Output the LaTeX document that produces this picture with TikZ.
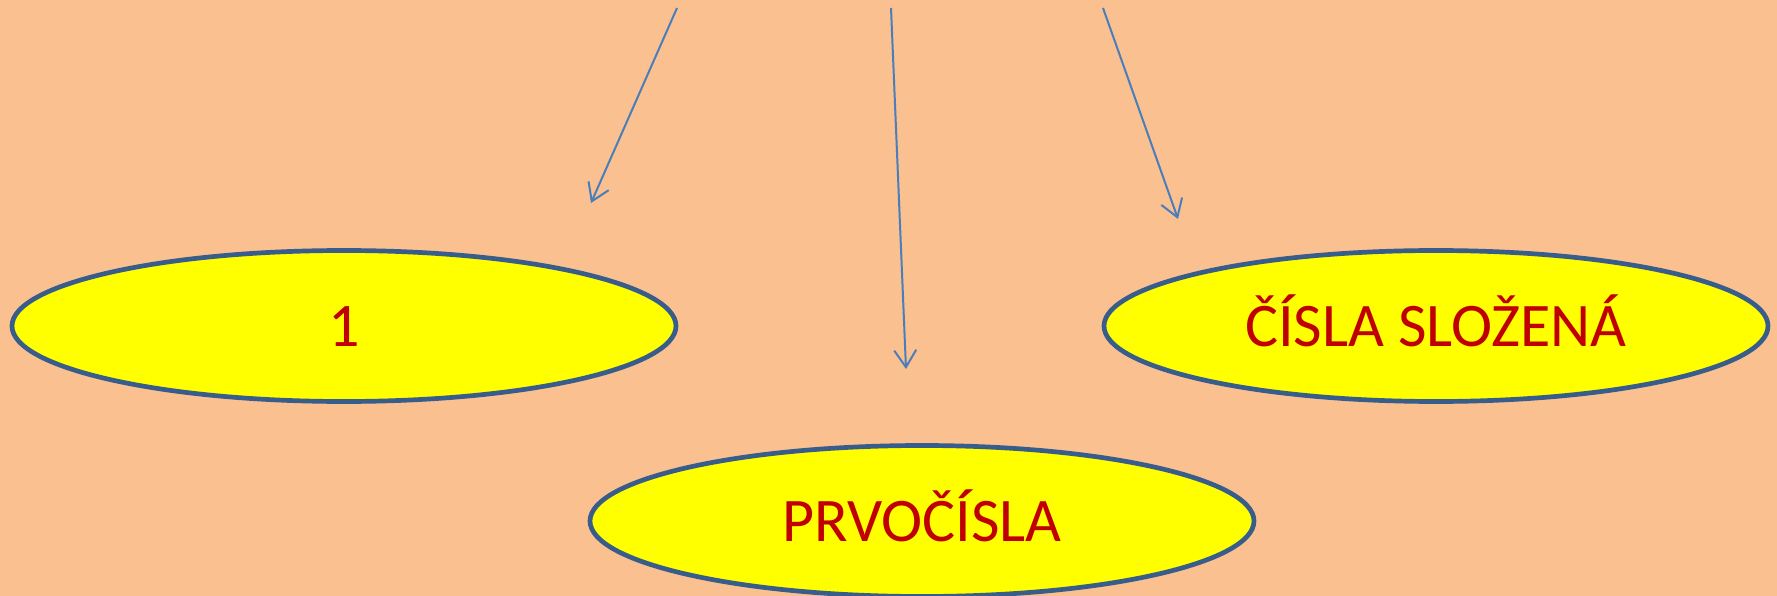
\documentclass[tikz,border=0pt]{standalone}
\usepackage{fontspec}
\setmainfont{Carlito}
\usetikzlibrary{shapes.geometric,arrows.meta}
\definecolor{pozadi}{HTML}{FAC090}
\definecolor{okraj}{HTML}{385D8A}
\definecolor{vypln}{HTML}{FFFF00}
\definecolor{sipka}{HTML}{4A7EBB}
\definecolor{pismo}{HTML}{C00000}
\begin{document}
\begin{tikzpicture}[x=1pt,y=-1pt,
  mnozina/.style={ellipse, draw=okraj, line width=4.7pt, fill=vypln, text=pismo,
    minimum width=664pt, minimum height=151pt, inner sep=0pt,
    font=\fontsize{62}{62}\selectfont, text height=40pt, text depth=0pt},
  sip/.style={draw=sipka, line width=2pt, -{Straight Barb[length=17pt,width=22pt,line width=2pt]}}]
\fill[pozadi] (0,0) rectangle (1777,596);
\useasboundingbox (0,0) rectangle (1777,596);
\clip (0,0) rectangle (1777,596);
\node[mnozina] (jedna) at (344,326) {1};
\node[mnozina] (prvo) at (922,521) {PRVOČÍSLA};
\node[mnozina] (slozena) at (1436,326) {ČÍSLA SLOŽENÁ};
\coordinate (s1) at (677,8);
\coordinate (s2) at (891,8);
\coordinate (s3) at (1103,8);
\coordinate (k1) at (591,203);
\coordinate (k2) at (906,369);
\coordinate (k3) at (1178,219);
\draw[sip] (s1) -- (k1);
\draw[sip] (s2) -- (k2);
\draw[sip] (s3) -- (k3);
\end{tikzpicture}
\end{document}
